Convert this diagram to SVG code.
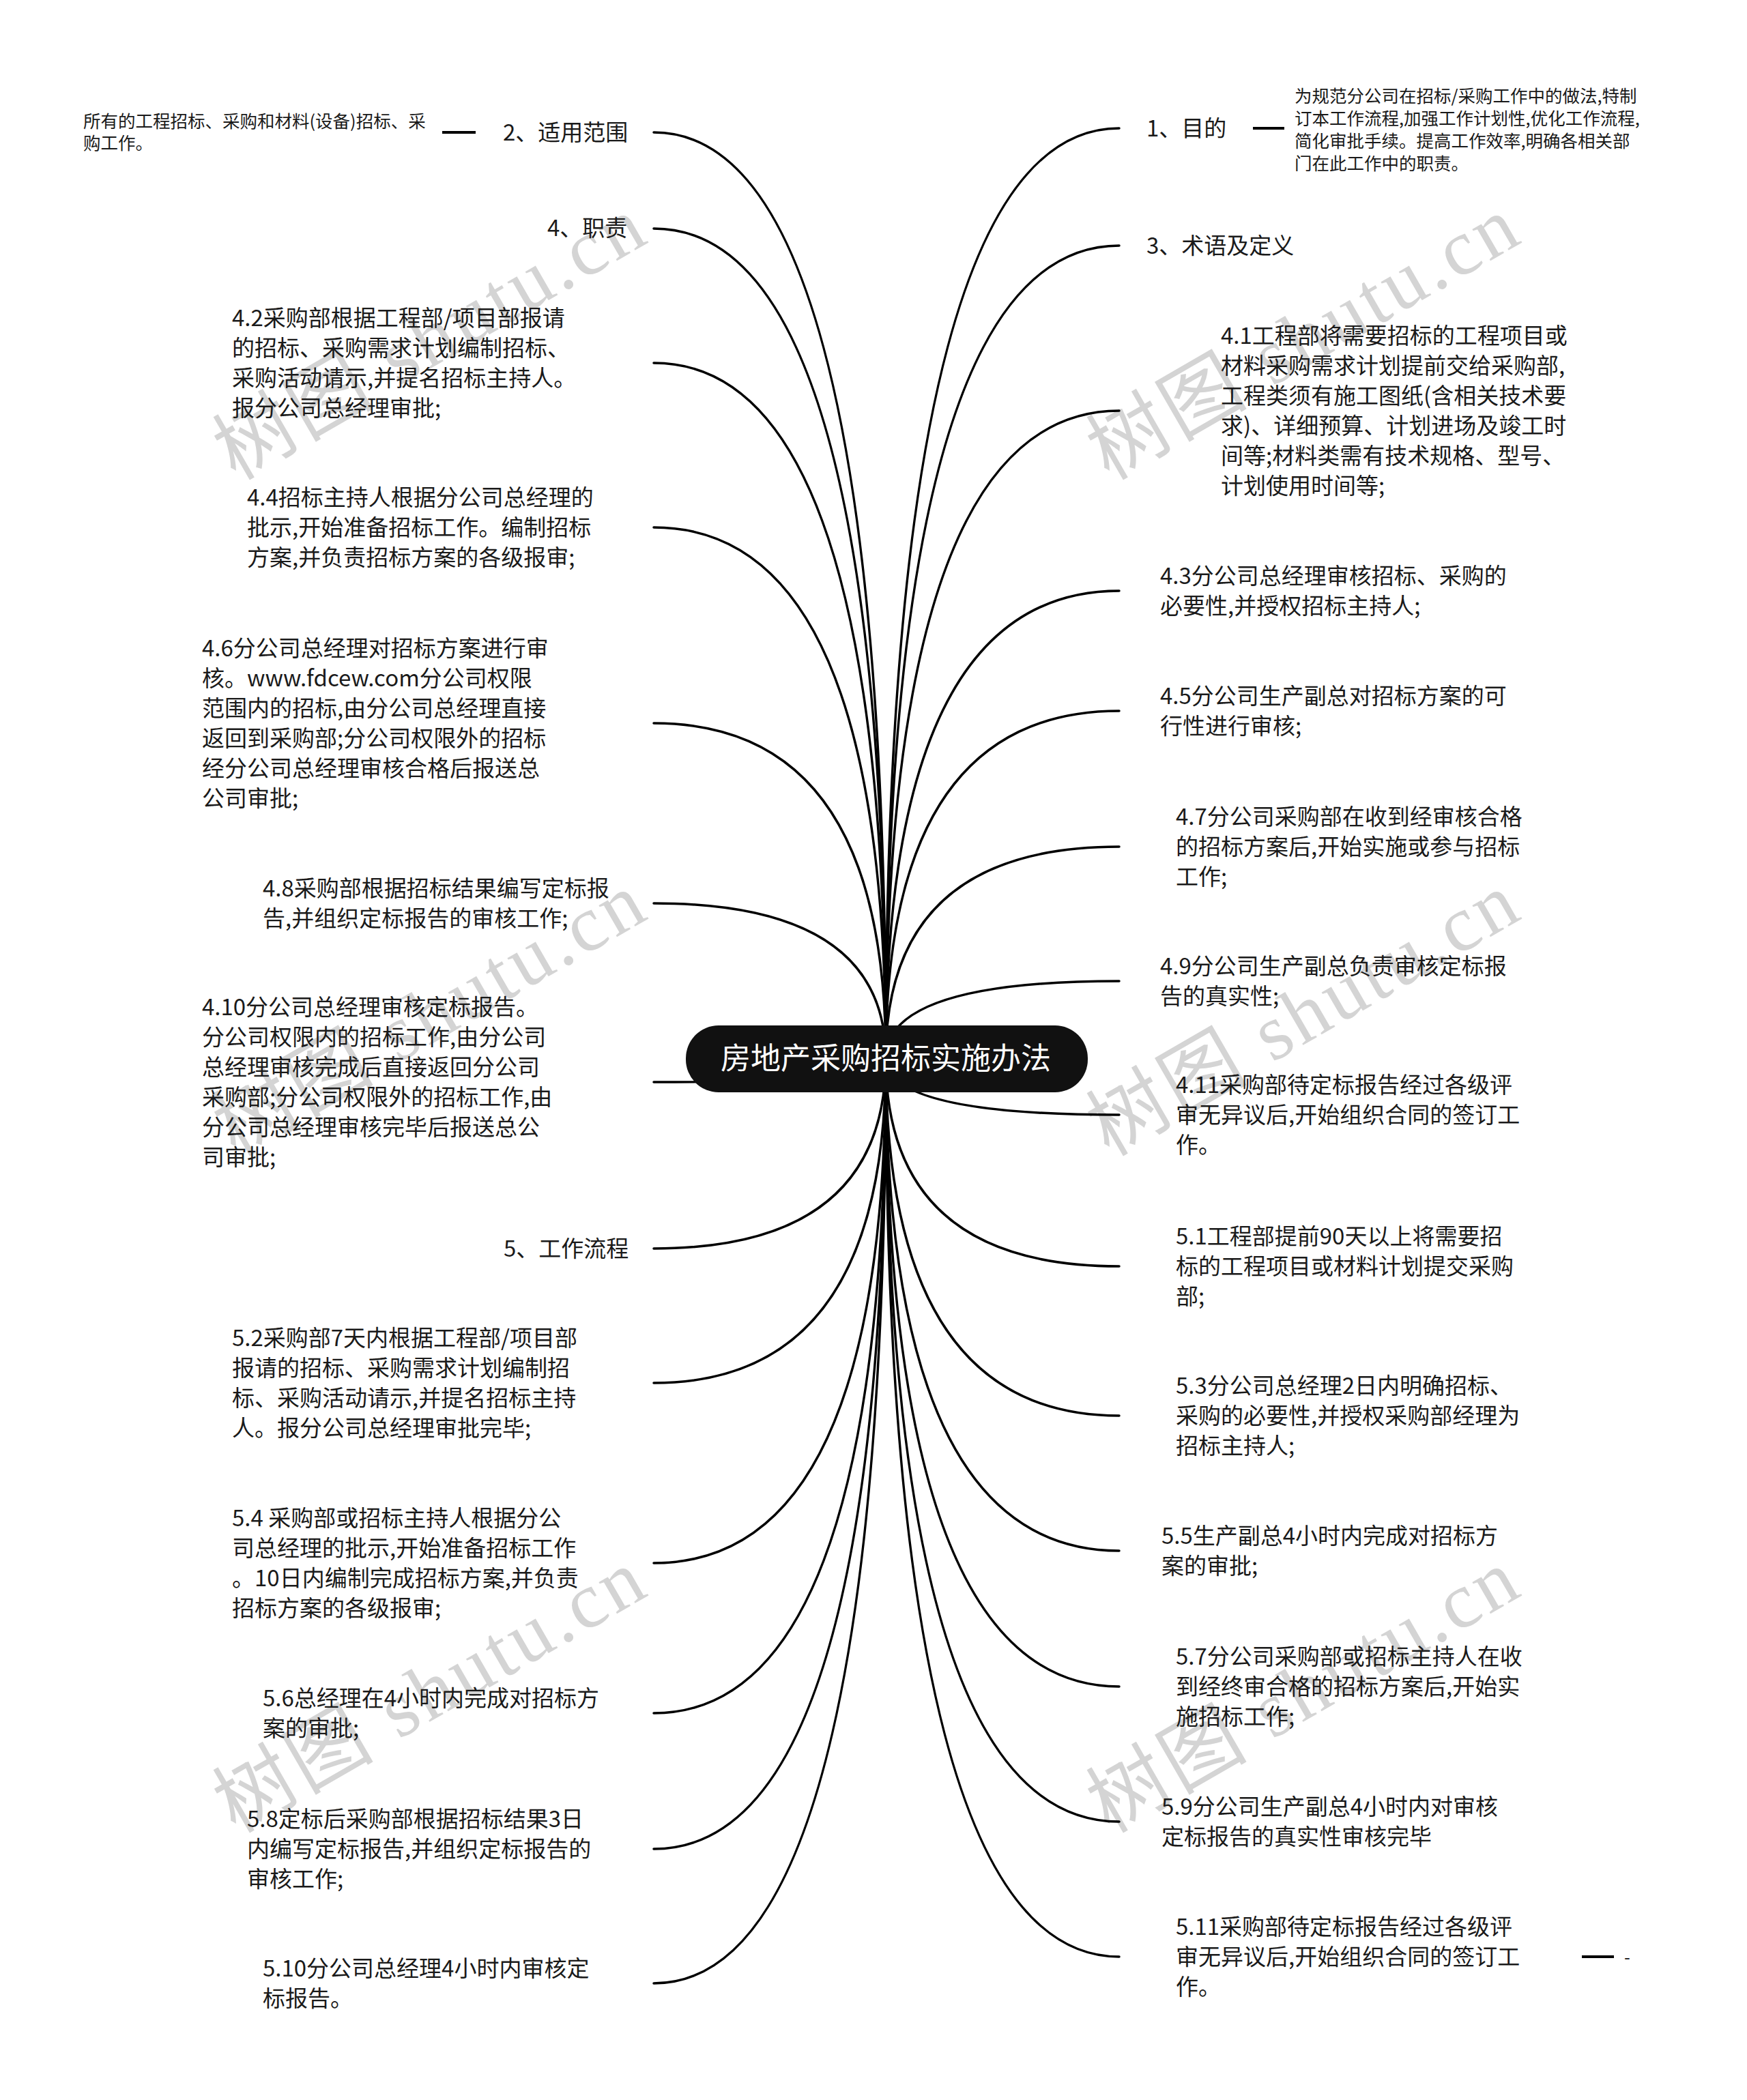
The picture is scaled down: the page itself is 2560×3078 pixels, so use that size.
<svg xmlns="http://www.w3.org/2000/svg" width="2560" height="3078" viewBox="0 0 2560 3078">
<style>
.bg{fill:#ffffff}
.wm{font-family:"Liberation Serif","Noto Sans CJK SC",serif;font-size:116px;fill:#d4d4d4;letter-spacing:5px}
.t{font-family:"Noto Sans CJK SC","Noto Sans",sans-serif;font-size:33px;fill:#1a1a1a}
.s{font-family:"Noto Sans CJK SC","Noto Sans",sans-serif;font-size:25.5px;fill:#1a1a1a}
.c{font-family:"Noto Sans CJK SC","Noto Sans",sans-serif;font-size:44px;fill:#ffffff;text-anchor:middle}
.ln{fill:none;stroke:#000000;stroke-width:3.5;stroke-linecap:round}
.dash{fill:none;stroke:#000000;stroke-width:4}
</style>
<rect class="bg" x="0" y="0" width="2560" height="3078"/>
<g id="watermarks">
<text class="wm" x="345" y="705" transform="rotate(-30 345 705)">树图 shutu.cn</text>
<text class="wm" x="1625" y="705" transform="rotate(-30 1625 705)">树图 shutu.cn</text>
<text class="wm" x="345" y="1696" transform="rotate(-30 345 1696)">树图 shutu.cn</text>
<text class="wm" x="1625" y="1696" transform="rotate(-30 1625 1696)">树图 shutu.cn</text>
<text class="wm" x="345" y="2688" transform="rotate(-30 345 2688)">树图 shutu.cn</text>
<text class="wm" x="1625" y="2688" transform="rotate(-30 1625 2688)">树图 shutu.cn</text>
</g>
<g id="connectors">
<path class="ln" d="M1298 1551 Q1298 194 958 194"/>
<path class="ln" d="M1298 1551 Q1298 335 958 335"/>
<path class="ln" d="M1298 1551 Q1298 532 958 532"/>
<path class="ln" d="M1298 1551 Q1298 773 958 773"/>
<path class="ln" d="M1298 1551 Q1298 1060 958 1060"/>
<path class="ln" d="M1298 1551 Q1298 1324 958 1324"/>
<path class="ln" d="M1298 1551 Q1298 1586 958 1586"/>
<path class="ln" d="M1298 1551 Q1298 1830 958 1830"/>
<path class="ln" d="M1298 1551 Q1298 2027 958 2027"/>
<path class="ln" d="M1298 1551 Q1298 2291 958 2291"/>
<path class="ln" d="M1298 1551 Q1298 2511 958 2511"/>
<path class="ln" d="M1298 1551 Q1298 2710 958 2710"/>
<path class="ln" d="M1298 1551 Q1298 2907 958 2907"/>
<path class="ln" d="M1298 1551 Q1298 188 1640 188"/>
<path class="ln" d="M1298 1551 Q1298 360 1640 360"/>
<path class="ln" d="M1298 1551 Q1298 602 1640 602"/>
<path class="ln" d="M1298 1551 Q1298 866 1640 866"/>
<path class="ln" d="M1298 1551 Q1298 1042 1640 1042"/>
<path class="ln" d="M1298 1551 Q1298 1241 1640 1241"/>
<path class="ln" d="M1298 1551 Q1298 1438 1640 1438"/>
<path class="ln" d="M1298 1551 Q1298 1634 1640 1634"/>
<path class="ln" d="M1298 1551 Q1298 1856 1640 1856"/>
<path class="ln" d="M1298 1551 Q1298 2075 1640 2075"/>
<path class="ln" d="M1298 1551 Q1298 2273 1640 2273"/>
<path class="ln" d="M1298 1551 Q1298 2472 1640 2472"/>
<path class="ln" d="M1298 1551 Q1298 2670 1640 2670"/>
<path class="ln" d="M1298 1551 Q1298 2868 1640 2868"/>
<line class="dash" x1="648" y1="194" x2="697" y2="194"/>
<line class="dash" x1="1836" y1="188" x2="1882" y2="188"/>
<line class="dash" x1="2318" y1="2868" x2="2365" y2="2868"/>
</g>
<g id="root">
<rect x="1005" y="1503" width="589" height="98" rx="48" ry="48" fill="#111111"/>
<text class="c" x="1298" y="1567">房地产采购招标实施办法</text>
</g>
<g id="n2">
<text class="t" x="737" y="206">2、适用范围</text>
</g>
<g id="n2-1">
<text class="s" x="122" y="187">所有的工程招标、采购和材料(设备)招标、采</text>
<text class="s" x="122" y="219">购工作。</text>
</g>
<g id="n4">
<text class="t" x="802" y="346">4、职责</text>
</g>
<g id="n4-2">
<text class="t" x="340" y="478">4.2采购部根据工程部/项目部报请</text>
<text class="t" x="340" y="522">的招标、采购需求计划编制招标、</text>
<text class="t" x="340" y="566">采购活动请示,并提名招标主持人。</text>
<text class="t" x="340" y="610">报分公司总经理审批;</text>
</g>
<g id="n4-4">
<text class="t" x="362" y="741">4.4招标主持人根据分公司总经理的</text>
<text class="t" x="362" y="785">批示,开始准备招标工作。编制招标</text>
<text class="t" x="362" y="829">方案,并负责招标方案的各级报审;</text>
</g>
<g id="n4-6">
<text class="t" x="296" y="962">4.6分公司总经理对招标方案进行审</text>
<text class="t" x="296" y="1006">核。www.fdcew.com分公司权限</text>
<text class="t" x="296" y="1050">范围内的招标,由分公司总经理直接</text>
<text class="t" x="296" y="1094">返回到采购部;分公司权限外的招标</text>
<text class="t" x="296" y="1138">经分公司总经理审核合格后报送总</text>
<text class="t" x="296" y="1182">公司审批;</text>
</g>
<g id="n4-8">
<text class="t" x="385" y="1314">4.8采购部根据招标结果编写定标报</text>
<text class="t" x="385" y="1358">告,并组织定标报告的审核工作;</text>
</g>
<g id="n4-10">
<text class="t" x="296" y="1488">4.10分公司总经理审核定标报告。</text>
<text class="t" x="296" y="1532">分公司权限内的招标工作,由分公司</text>
<text class="t" x="296" y="1576">总经理审核完成后直接返回分公司</text>
<text class="t" x="296" y="1620">采购部;分公司权限外的招标工作,由</text>
<text class="t" x="296" y="1664">分公司总经理审核完毕后报送总公</text>
<text class="t" x="296" y="1708">司审批;</text>
</g>
<g id="n5">
<text class="t" x="738" y="1842">5、工作流程</text>
</g>
<g id="n5-2">
<text class="t" x="340" y="1973">5.2采购部7天内根据工程部/项目部</text>
<text class="t" x="340" y="2017">报请的招标、采购需求计划编制招</text>
<text class="t" x="340" y="2061">标、采购活动请示,并提名招标主持</text>
<text class="t" x="340" y="2105">人。报分公司总经理审批完毕;</text>
</g>
<g id="n5-4">
<text class="t" x="340" y="2237">5.4 采购部或招标主持人根据分公</text>
<text class="t" x="340" y="2281">司总经理的批示,开始准备招标工作</text>
<text class="t" x="340" y="2325">。10日内编制完成招标方案,并负责</text>
<text class="t" x="340" y="2369">招标方案的各级报审;</text>
</g>
<g id="n5-6">
<text class="t" x="385" y="2501">5.6总经理在4小时内完成对招标方</text>
<text class="t" x="385" y="2545">案的审批;</text>
</g>
<g id="n5-8">
<text class="t" x="362" y="2678">5.8定标后采购部根据招标结果3日</text>
<text class="t" x="362" y="2722">内编写定标报告,并组织定标报告的</text>
<text class="t" x="362" y="2766">审核工作;</text>
</g>
<g id="n5-10">
<text class="t" x="385" y="2897">5.10分公司总经理4小时内审核定</text>
<text class="t" x="385" y="2941">标报告。</text>
</g>
<g id="n1">
<text class="t" x="1680" y="200">1、目的</text>
</g>
<g id="n1-1">
<text class="s" x="1897" y="150">为规范分公司在招标/采购工作中的做法,特制</text>
<text class="s" x="1897" y="183">订本工作流程,加强工作计划性,优化工作流程,</text>
<text class="s" x="1897" y="216">简化审批手续。提高工作效率,明确各相关部</text>
<text class="s" x="1897" y="249">门在此工作中的职责。</text>
</g>
<g id="n3">
<text class="t" x="1680" y="372">3、术语及定义</text>
</g>
<g id="n4-1">
<text class="t" x="1789" y="504">4.1工程部将需要招标的工程项目或</text>
<text class="t" x="1789" y="548">材料采购需求计划提前交给采购部,</text>
<text class="t" x="1789" y="592">工程类须有施工图纸(含相关技术要</text>
<text class="t" x="1789" y="636">求)、详细预算、计划进场及竣工时</text>
<text class="t" x="1789" y="680">间等;材料类需有技术规格、型号、</text>
<text class="t" x="1789" y="724">计划使用时间等;</text>
</g>
<g id="n4-3">
<text class="t" x="1700" y="856">4.3分公司总经理审核招标、采购的</text>
<text class="t" x="1700" y="900">必要性,并授权招标主持人;</text>
</g>
<g id="n4-5">
<text class="t" x="1700" y="1032">4.5分公司生产副总对招标方案的可</text>
<text class="t" x="1700" y="1076">行性进行审核;</text>
</g>
<g id="n4-7">
<text class="t" x="1723" y="1209">4.7分公司采购部在收到经审核合格</text>
<text class="t" x="1723" y="1253">的招标方案后,开始实施或参与招标</text>
<text class="t" x="1723" y="1297">工作;</text>
</g>
<g id="n4-9">
<text class="t" x="1700" y="1428">4.9分公司生产副总负责审核定标报</text>
<text class="t" x="1700" y="1472">告的真实性;</text>
</g>
<g id="n4-11">
<text class="t" x="1723" y="1602">4.11采购部待定标报告经过各级评</text>
<text class="t" x="1723" y="1646">审无异议后,开始组织合同的签订工</text>
<text class="t" x="1723" y="1690">作。</text>
</g>
<g id="n5-1">
<text class="t" x="1723" y="1824">5.1工程部提前90天以上将需要招</text>
<text class="t" x="1723" y="1868">标的工程项目或材料计划提交采购</text>
<text class="t" x="1723" y="1912">部;</text>
</g>
<g id="n5-3">
<text class="t" x="1723" y="2043">5.3分公司总经理2日内明确招标、</text>
<text class="t" x="1723" y="2087">采购的必要性,并授权采购部经理为</text>
<text class="t" x="1723" y="2131">招标主持人;</text>
</g>
<g id="n5-5">
<text class="t" x="1702" y="2263">5.5生产副总4小时内完成对招标方</text>
<text class="t" x="1702" y="2307">案的审批;</text>
</g>
<g id="n5-7">
<text class="t" x="1723" y="2440">5.7分公司采购部或招标主持人在收</text>
<text class="t" x="1723" y="2484">到经终审合格的招标方案后,开始实</text>
<text class="t" x="1723" y="2528">施招标工作;</text>
</g>
<g id="n5-9">
<text class="t" x="1702" y="2660">5.9分公司生产副总4小时内对审核</text>
<text class="t" x="1702" y="2704">定标报告的真实性审核完毕</text>
</g>
<g id="n5-11">
<text class="t" x="1723" y="2836">5.11采购部待定标报告经过各级评</text>
<text class="t" x="1723" y="2880">审无异议后,开始组织合同的签订工</text>
<text class="t" x="1723" y="2924">作。</text>
</g>
<g id="n5-11-1">
<text class="s" x="2380" y="2878">-</text>
</g>
</svg>
